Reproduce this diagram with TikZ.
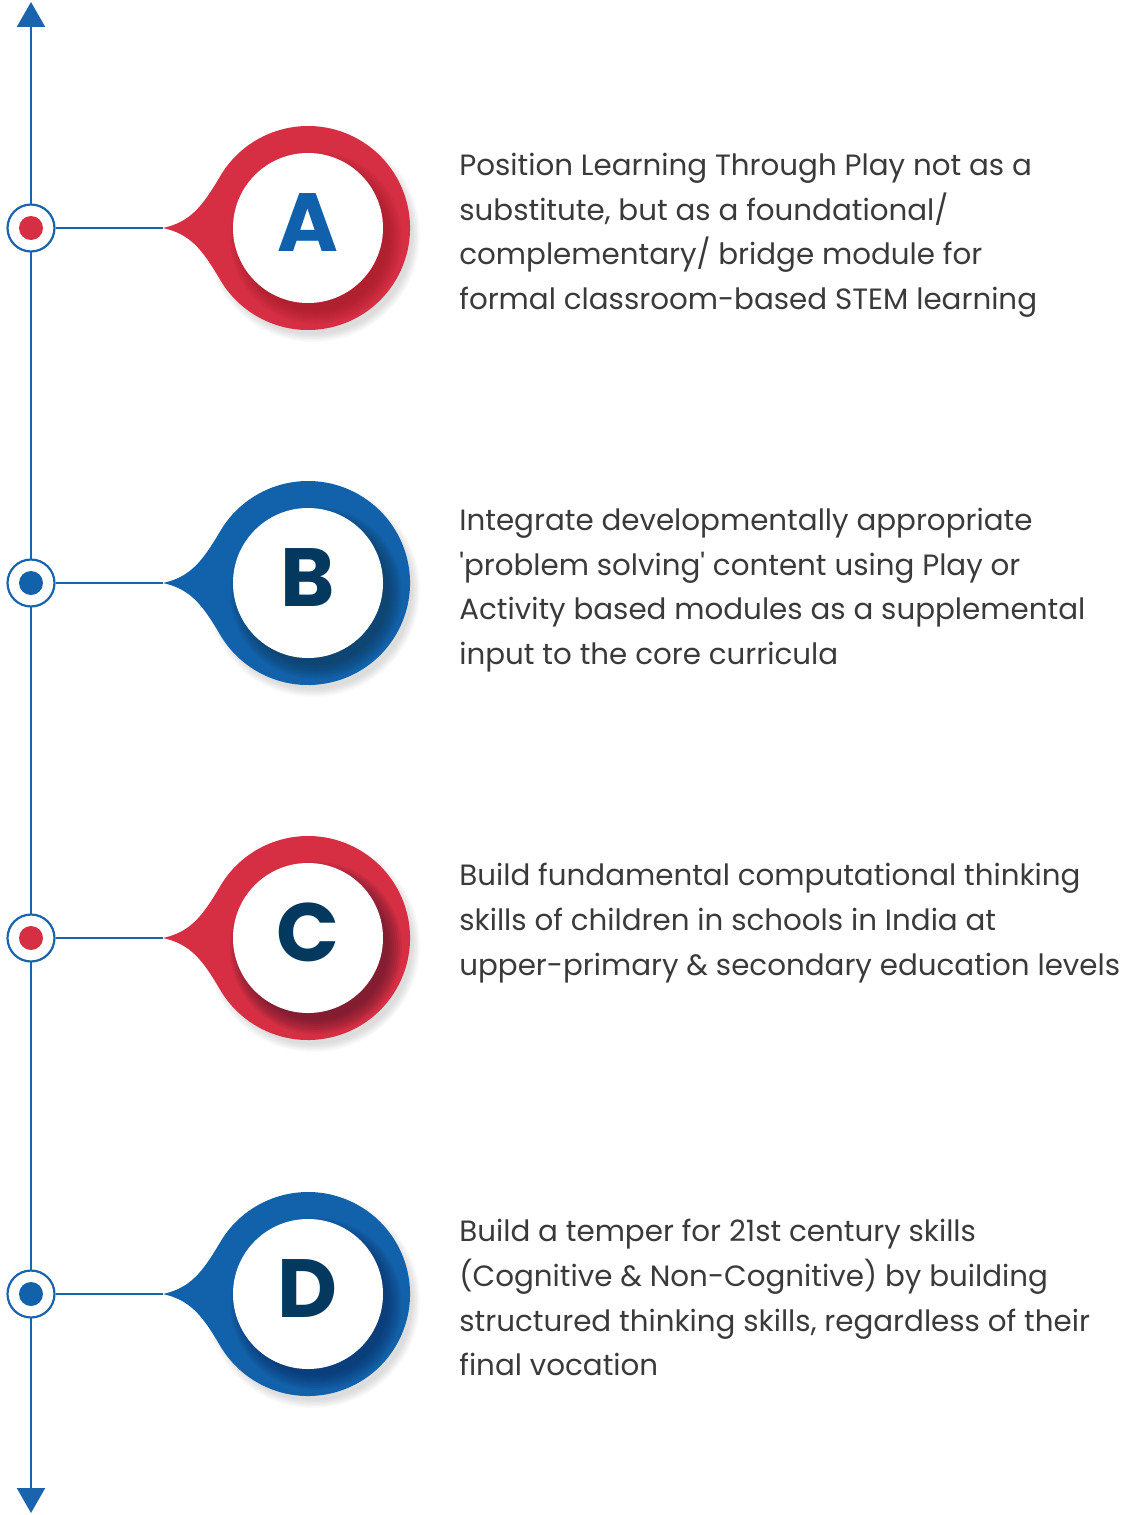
\documentclass[tikz,border=0pt]{standalone}
\usepackage{fontspec}
\newfontfamily\bodyfont{Poppins}
\usetikzlibrary{arrows.meta}

\definecolor{ringred}{HTML}{D62F44}
\definecolor{ringblue}{HTML}{1262AB}
\definecolor{axisblue}{HTML}{1A64AE}
\definecolor{letterblue}{HTML}{1060AC}
\definecolor{navy}{HTML}{04395F}
\definecolor{textgray}{HTML}{3A3A3A}
\definecolor{shadeA}{HTML}{9B1A25}
\definecolor{shadeB}{HTML}{0E3450}
\definecolor{shadeC}{HTML}{4D1527}
\definecolor{shadeD}{HTML}{0A2A5E}

\begin{document}
\begin{tikzpicture}[
    x=0.02cm, y=0.02cm,          % 1 unit = 1 px of the layout grid
    axis/.style={draw=axisblue, line width=0.048cm,
      {Triangle[length=0.5cm,width=0.56cm]}-{Triangle[length=0.5cm,width=0.56cm]}},
    link/.style={draw=axisblue, line width=0.044cm},
    marker/.style={circle, draw=axisblue, line width=0.044cm, fill=white,
      minimum size=0.94cm, inner sep=0pt,
      path picture={\fill[#1] (path picture bounding box.center) circle[radius=0.24cm];}},
    letter/.style={anchor=base, inner sep=0pt, font=\bodyfont\bfseries\fontsize{47pt}{47pt}\selectfont},
    note/.style={anchor=north west, inner sep=0pt, align=left, text=textgray,
      font=\bodyfont\fontsize{16.7pt}{25.4pt}\selectfont},
    pics/badge/.style 2 args={code={
      % soft shadow under the badge
      \foreach \s in {1,...,6}
        \fill[black, opacity=0.025] (5,-7) circle[radius=98+1.5*\s];
      \begin{scope}
        \clip (-145,0) .. controls (-118,6) and (-106,21) .. (-88.3,51)
              arc[start angle=150, end angle=-150, radius=102]
              .. controls (-106,-21) and (-118,-6) .. cycle;
        \fill[#1] (-150,-110) rectangle (110,110);
        % inner shade cast by the white disc
        \foreach \s in {0,...,7}
          \fill[#2, opacity=0.1] (8,-10) circle[radius=72+2*\s];
      \end{scope}
      \fill[white] (0,0) circle[radius=75];
    }}
  ]
  \useasboundingbox (0,0) rectangle (1124,-1515);

  % timeline axis
  \coordinate (top) at (31,-2);
  \coordinate (bot) at (31,-1513);
  \draw[axis] (bot) -- (top);

  % badges
  \pic at (308,-228)  {badge={ringred}{shadeA}};
  \pic at (308,-583)  {badge={ringblue}{shadeB}};
  \pic at (308,-938)  {badge={ringred}{shadeC}};
  \pic at (308,-1294) {badge={ringblue}{shadeD}};

  \node[letter, text=letterblue] (lA) at (308,-251)  {A};
  \node[letter, text=navy]       (lB) at (308,-606)  {B};
  \node[letter, text=navy]       (lC) at (308,-961)  {C};
  \node[letter, text=navy]       (lD) at (308,-1317) {D};

  % badge tips
  \coordinate (tA) at (163,-228);
  \coordinate (tB) at (163,-583);
  \coordinate (tC) at (163,-938);
  \coordinate (tD) at (163,-1294);

  % markers on the axis
  \node[marker=ringred]  (mA) at (31,-228)  {};
  \node[marker=ringblue] (mB) at (31,-583)  {};
  \node[marker=ringred]  (mC) at (31,-938)  {};
  \node[marker=ringblue] (mD) at (31,-1294) {};

  \draw[link] (mA) -- (tA);
  \draw[link] (mB) -- (tB);
  \draw[link] (mC) -- (tC);
  \draw[link] (mD) -- (tD);

  % descriptions
  \node[note] (txtA) at (459,-153) {Position Learning Through Play not as a\\
    substitute, but as a foundational/\\
    complementary/ bridge module for\\
    formal classroom-based STEM learning};
  \node[note] (txtB) at (459,-508) {Integrate developmentally appropriate\\
    'problem solving' content using Play or\\
    Activity based modules as a supplemental\\
    input to the core curricula};
  \node[note] (txtC) at (459,-863) {Build fundamental computational thinking\\
    skills of children in schools in India at\\
    upper-primary \& secondary education levels};
  \node[note] (txtD) at (459,-1219) {Build a temper for 21st century skills\\
    (Cognitive \& Non-Cognitive) by building\\
    structured thinking skills, regardless of their\\
    final vocation};

\end{tikzpicture}
\end{document}
